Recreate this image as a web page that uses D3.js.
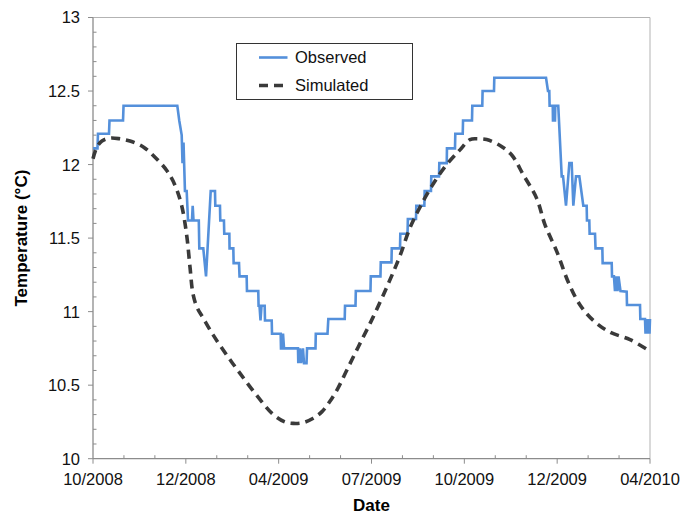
<!DOCTYPE html>
<html>
<head>
<meta charset="utf-8">
<script src="https://cdn.jsdelivr.net/npm/d3@7"></script>
<style>
  body { margin: 0; background: #fff; }
  svg text { font-family: "Liberation Sans", Arial, Helvetica, sans-serif; }
</style>
</head>
<body>
<script>
// days since 10/2008 (axis spans 547 days)
var obsDay = [0, 4.4, 4.9, 15.7, 16.2, 29.5, 30.0, 82.8, 84.7, 87.1, 87.9, 88.9, 90.3, 92.0, 93.3, 97.2, 97.9, 98.7,
  103.9, 104.4, 108.3, 111.0, 115.6, 119.8, 120.1, 124.7, 125.0, 128.6, 128.9, 133.9, 134.1, 137.8, 138.1, 143.4, 143.9,
  150.9, 151.2, 162.3, 162.6, 163.5, 164.5, 165.5, 168.6, 168.9, 175.5, 175.8, 184.3, 184.6, 185.6, 186.6, 187.6,
  201.3, 201.6, 203.3, 204.3, 206.2, 207.2, 209.7, 210.2, 218.5, 218.8, 230.3, 231.1, 247.2, 247.5, 257.8, 258.1,
  272.5, 272.8, 282.3, 282.6, 293.1, 293.4, 301.5, 301.8, 308.9, 309.2, 317.2, 317.5, 325.4, 325.7, 331.9, 332.2,
  339.8, 340.1, 347.4, 347.6, 355.5, 355.8, 363.1, 363.4, 372.2, 372.5, 382.3, 382.6, 393.8, 394.1, 444.9, 446.8,
  448.1, 448.4, 451.5, 451.7, 453.7, 454.0, 456.9, 460.3, 461.6, 464.5, 467.8, 470.1, 471.7, 474.3, 477.6, 481.5,
  484.8, 485.1, 487.4, 487.7, 493.0, 493.5, 500.2, 500.5, 509.4, 509.7, 511.6, 512.6, 513.6, 515.1, 516.1, 518.0,
  524.1, 524.4, 537.2, 537.5, 542.1, 542.6, 543.6, 544.6, 545.5, 546.5, 547];
var obsTemp = [12.11, 12.11, 12.21, 12.21, 12.30, 12.30, 12.40, 12.40, 12.30, 12.20, 12.01, 12.15, 11.82, 11.82, 11.62, 11.62, 11.72, 11.62,
  11.62, 11.43, 11.43, 11.24, 11.82, 11.82, 11.72, 11.72, 11.62, 11.62, 11.53, 11.53, 11.43, 11.43, 11.33, 11.33, 11.24,
  11.24, 11.14, 11.14, 11.04, 11.04, 10.94, 11.04, 11.04, 10.94, 10.94, 10.85, 10.85, 10.75, 10.75, 10.85, 10.75,
  10.75, 10.65, 10.75, 10.65, 10.75, 10.65, 10.65, 10.75, 10.75, 10.85, 10.85, 10.95, 10.95, 11.04, 11.04, 11.14,
  11.14, 11.24, 11.24, 11.335, 11.335, 11.43, 11.43, 11.53, 11.53, 11.63, 11.63, 11.72, 11.72, 11.82, 11.82, 11.92,
  11.92, 12.01, 12.01, 12.11, 12.11, 12.21, 12.21, 12.30, 12.30, 12.40, 12.40, 12.50, 12.50, 12.59, 12.59, 12.50,
  12.50, 12.40, 12.40, 12.30, 12.30, 12.40, 12.40, 11.92, 11.92, 11.72, 12.01, 12.01, 11.72, 11.92, 11.92, 11.72,
  11.72, 11.62, 11.62, 11.53, 11.53, 11.43, 11.43, 11.33, 11.33, 11.24, 11.24, 11.14, 11.24, 11.14, 11.24, 11.14,
  11.135, 11.045, 11.045, 10.95, 10.95, 10.85, 10.95, 10.85, 10.95, 10.85, 10.95];

var simDay = [0, 3.9, 8.8, 16.7, 26.5, 36.3, 49.4, 60.9, 72.4, 80.5, 87.1, 92.0, 95.3, 98.2, 102.1, 108.3, 118.1,
  131.3, 144.4, 160.8, 177.1, 188.5, 196.7, 206.2, 216.3, 224.9, 232.7, 240.6, 249.1, 260.5, 275.3, 290.0, 301.5,
  311.3, 321.1, 334.2, 347.4, 360.4, 370.2, 378.0, 386.6, 399.7, 411.2, 422.6, 435.7, 443.9, 455.4, 466.8, 478.3,
  491.3, 507.7, 527.4, 547];
var simTemp = [12.04, 12.12, 12.16, 12.18, 12.175, 12.16, 12.12, 12.05, 11.96, 11.86, 11.72, 11.52, 11.30, 11.12, 11.03, 10.955, 10.84,
  10.705, 10.58, 10.43, 10.30, 10.25, 10.24, 10.245, 10.275, 10.32, 10.39, 10.48, 10.60, 10.76, 10.966, 11.19, 11.38,
  11.57, 11.71, 11.87, 12.00, 12.10, 12.17, 12.175, 12.17, 12.13, 12.065, 11.93, 11.77, 11.59, 11.41, 11.20, 11.045,
  10.94, 10.86, 10.81, 10.73];

var xTickLabels = ["10/2008", "12/2008", "04/2009", "07/2009", "10/2009", "12/2009", "04/2010"];
var yTickLabels = ["10", "10.5", "11", "11.5", "12", "12.5", "13"];
var seriesNames = ["Observed", "Simulated"];

var margin = {top: 17.5, right: 44, bottom: 56.3, left: 93};
var totalW = 694, totalH = 515;
var width = totalW - margin.left - margin.right;
var height = totalH - margin.top - margin.bottom;

var svg = d3.select("body").append("svg")
  .attr("width", totalW)
  .attr("height", totalH);
var g = svg.append("g")
  .attr("transform", "translate(" + margin.left + "," + margin.top + ")");

var xScale = d3.scaleLinear().domain([0, 547]).range([0, width]);
var yScale = d3.scaleLinear().domain([10, 13]).range([height, 0]);

// frame (top/right)
g.append("path")
  .attr("d", "M0,0H" + width + "V" + height)
  .attr("fill", "none")
  .attr("stroke", "#b3b3b3")
  .attr("stroke-width", 1);

var axisColor = "#8c8c8c";

// x ticks: 18 month intervals, label every third
var xTicks = d3.range(19).map(function(i){ return i * 547 / 18; });
var xAxis = g.append("g").attr("transform", "translate(0," + height + ")");
xAxis.append("line").attr("x1", 0).attr("x2", width).attr("stroke", axisColor).attr("stroke-width", 1.3);
xAxis.selectAll(".xt").data(xTicks).enter().append("line")
  .attr("x1", function(d){ return xScale(d); })
  .attr("x2", function(d){ return xScale(d); })
  .attr("y1", function(d, i){ return i % 3 === 0 ? 0 : -3.5; })
  .attr("y2", function(d, i){ return i % 3 === 0 ? 5 : 0; })
  .attr("stroke", axisColor).attr("stroke-width", 1);
xAxis.selectAll(".xl").data(xTickLabels).enter().append("text")
  .attr("x", function(d, i){ return xScale(xTicks[i * 3]); })
  .attr("y", 26.6)
  .attr("text-anchor", "middle")
  .attr("font-size", "16.5px")
  .attr("fill", "#111")
  .text(function(d){ return d; });

// y ticks: major every 0.5 (outside), minor every 0.1 (inside)
var yMinor = d3.range(0, 31).map(function(i){ return 10 + i / 10; });
var yAxis = g.append("g");
yAxis.append("line").attr("y1", 0).attr("y2", height).attr("stroke", axisColor).attr("stroke-width", 1.3);
yAxis.selectAll(".yt").data(yMinor).enter().append("line")
  .attr("y1", function(d){ return yScale(d); })
  .attr("y2", function(d){ return yScale(d); })
  .attr("x1", function(d, i){ return i % 5 === 0 ? -5 : 0; })
  .attr("x2", function(d, i){ return i % 5 === 0 ? 0 : 3.5; })
  .attr("stroke", axisColor).attr("stroke-width", 1);
yAxis.selectAll(".yl").data(yTickLabels).enter().append("text")
  .attr("x", -13)
  .attr("y", function(d){ return yScale(+d); })
  .attr("dy", "0.36em")
  .attr("text-anchor", "end")
  .attr("font-size", "16.5px")
  .attr("fill", "#111")
  .text(function(d){ return d; });

// axis titles
svg.append("text")
  .attr("x", margin.left + width / 2)
  .attr("y", 511)
  .attr("text-anchor", "middle")
  .attr("font-size", "17px")
  .attr("font-weight", "bold")
  .text("Date");
svg.append("text")
  .attr("transform", "translate(27," + (margin.top + height / 2) + ") rotate(-90)")
  .attr("text-anchor", "middle")
  .attr("font-size", "17px")
  .attr("font-weight", "bold")
  .text("Temperature (°C)");

var obsData = obsDay.map(function(d, i){ return {x: d, y: obsTemp[i]}; });
var simData = simDay.map(function(d, i){ return {x: d, y: simTemp[i]}; });

var obsLine = d3.line()
  .x(function(d){ return xScale(d.x); })
  .y(function(d){ return yScale(d.y); });
var simLine = d3.line()
  .curve(d3.curveCatmullRom.alpha(0.5))
  .x(function(d){ return xScale(d.x); })
  .y(function(d){ return yScale(d.y); });

g.append("path")
  .datum(obsData)
  .attr("d", obsLine)
  .attr("fill", "none")
  .attr("stroke", "#5490db")
  .attr("stroke-width", 2.6)
  .attr("stroke-linejoin", "miter");

g.append("path")
  .datum(simData)
  .attr("d", simLine)
  .attr("fill", "none")
  .attr("stroke", "#3a3a3a")
  .attr("stroke-width", 3.6)
  .attr("stroke-dasharray", "9,6");

// legend
var legend = svg.append("g").attr("transform", "translate(236.5,43.5)");
legend.append("rect")
  .attr("width", 176).attr("height", 56)
  .attr("fill", "#fff")
  .attr("stroke", "#333").attr("stroke-width", 1);
var legendStyles = [
  {stroke: "#5490db", w: 2.6, dash: null},
  {stroke: "#3a3a3a", w: 3.6, dash: "9,6"}
];
seriesNames.forEach(function(name, i){
  var yy = 14 + i * 28;
  legend.append("line")
    .attr("x1", 22.5).attr("x2", 51)
    .attr("y1", yy).attr("y2", yy)
    .attr("stroke", legendStyles[i].stroke)
    .attr("stroke-width", legendStyles[i].w)
    .attr("stroke-dasharray", legendStyles[i].dash);
  legend.append("text")
    .attr("x", 58.5).attr("y", yy)
    .attr("dy", "0.36em")
    .attr("font-size", "16.5px")
    .attr("fill", "#111")
    .text(name);
});
</script>
</body>
</html>
